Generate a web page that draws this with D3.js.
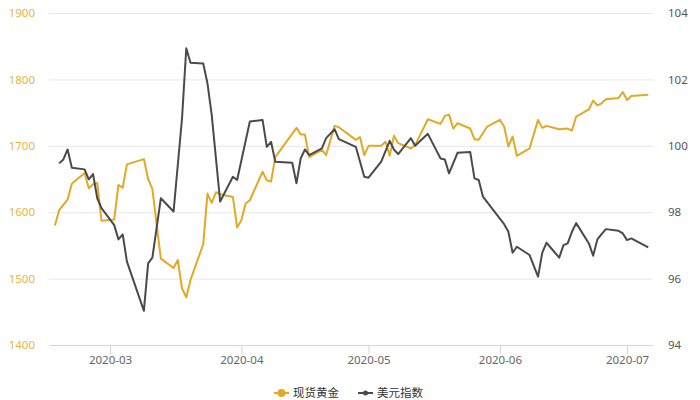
<!DOCTYPE html>
<html>
<head>
<meta charset="utf-8">
<script src="https://cdn.jsdelivr.net/npm/d3@7"></script>
<style>
  html, body { margin: 0; padding: 0; background: #fff; }
  svg { display: block; font-family: "Noto Sans CJK SC", "Noto Sans", sans-serif; }
</style>
</head>
<body>
<svg id="chart" width="700" height="400"></svg>
<script>
// ---- data ----
const goldDates = ["2020-02-17","2020-02-18","2020-02-19","2020-02-20","2020-02-21","2020-02-24","2020-02-25","2020-02-26","2020-02-27","2020-02-28",
  "2020-03-02","2020-03-03","2020-03-04","2020-03-05","2020-03-09","2020-03-10","2020-03-11","2020-03-13","2020-03-16","2020-03-17",
  "2020-03-18","2020-03-19","2020-03-20","2020-03-23","2020-03-24","2020-03-25","2020-03-26","2020-03-27","2020-03-30","2020-03-31",
  "2020-04-01","2020-04-02","2020-04-03","2020-04-06","2020-04-07","2020-04-08","2020-04-09","2020-04-14","2020-04-15","2020-04-16",
  "2020-04-17","2020-04-20","2020-04-21","2020-04-23","2020-04-24","2020-04-28","2020-04-29","2020-04-30","2020-05-01","2020-05-04",
  "2020-05-05","2020-05-06","2020-05-07","2020-05-08","2020-05-11","2020-05-12","2020-05-15","2020-05-18","2020-05-19","2020-05-20",
  "2020-05-21","2020-05-22","2020-05-25","2020-05-26","2020-05-27","2020-05-29","2020-06-01","2020-06-02","2020-06-03","2020-06-04",
  "2020-06-05","2020-06-08","2020-06-10","2020-06-11","2020-06-12","2020-06-15","2020-06-17","2020-06-18","2020-06-19","2020-06-22",
  "2020-06-23","2020-06-24","2020-06-25","2020-06-26","2020-06-29","2020-06-30","2020-07-01","2020-07-02","2020-07-06"];
const goldValues = [1580,1603,1611,1619,1643,1659,1636,1642,1644,1587,
  1589,1641,1637,1672,1680,1650,1635,1530,1516,1528,
  1485,1472,1498,1552,1628,1614,1630,1627,1623,1577,
  1588,1613,1618,1661,1648,1646,1683,1727,1717,1717,
  1683,1694,1686,1730,1728,1709,1713,1686,1700,1700,
  1706,1685,1715,1704,1696,1701,1740,1733,1745,1747,
  1726,1734,1726,1710,1709,1729,1739,1729,1699,1714,
  1685,1696,1739,1727,1730,1725,1726,1723,1744,1755,
  1768,1761,1764,1770,1772,1781,1769,1775,1777];

const usdDates = ["2020-02-18","2020-02-19","2020-02-20","2020-02-21","2020-02-24","2020-02-25","2020-02-26","2020-02-27","2020-02-28",
  "2020-03-02","2020-03-03","2020-03-04","2020-03-05","2020-03-09","2020-03-10","2020-03-11","2020-03-13","2020-03-16","2020-03-18",
  "2020-03-19","2020-03-20","2020-03-23","2020-03-24","2020-03-25","2020-03-27","2020-03-30","2020-03-31","2020-04-03","2020-04-06",
  "2020-04-07","2020-04-08","2020-04-09","2020-04-13","2020-04-14","2020-04-15","2020-04-16","2020-04-17","2020-04-20","2020-04-21",
  "2020-04-23","2020-04-24","2020-04-28","2020-04-30","2020-05-01","2020-05-04","2020-05-06","2020-05-07","2020-05-08","2020-05-11",
  "2020-05-12","2020-05-15","2020-05-18","2020-05-19","2020-05-20","2020-05-22","2020-05-25","2020-05-26","2020-05-27","2020-05-28",
  "2020-06-02","2020-06-03","2020-06-04","2020-06-05","2020-06-08","2020-06-10","2020-06-11","2020-06-12","2020-06-15","2020-06-16",
  "2020-06-17","2020-06-18","2020-06-19","2020-06-22","2020-06-23","2020-06-24","2020-06-25","2020-06-26","2020-06-29","2020-06-30",
  "2020-07-01","2020-07-02","2020-07-06"];
const usdValues = [99.47,99.59,99.89,99.34,99.29,98.99,99.15,98.42,98.12,
  97.61,97.18,97.33,96.51,95.03,96.46,96.63,98.42,98.02,100.83,
  102.94,102.50,102.48,101.88,100.93,98.32,99.07,98.97,100.73,100.78,
  99.97,100.12,99.52,99.49,98.87,99.62,99.89,99.72,99.92,100.23,
  100.50,100.20,99.97,99.07,99.04,99.52,100.15,99.89,99.75,100.23,
  100.00,100.36,99.62,99.59,99.17,99.79,99.81,99.02,98.97,98.47,
  97.64,97.41,96.78,96.96,96.71,96.06,96.78,97.08,96.63,97.01,
  97.06,97.41,97.67,97.06,96.69,97.18,97.34,97.49,97.44,97.36,
  97.16,97.21,96.94];

const leftTicks = [1400,1500,1600,1700,1800,1900];
const rightTicks = [94,96,98,100,102,104];
const monthTicks = ["2020-03-01","2020-04-01","2020-05-01","2020-06-01","2020-07-01"];
const seriesNames = ["现货黄金","美元指数"];

// ---- drawing ----
const parse = d3.utcParse("%Y-%m-%d");
const gold = goldDates.map((d,i) => ({date: parse(d), value: goldValues[i]}));
const usd = usdDates.map((d,i) => ({date: parse(d), value: usdValues[i]}));

const L = 49, R = 653, T = 13, B = 345;
const goldColor = "#e2a925", usdColor = "#4a4a4a";

const x = d3.scaleUtc()
  .domain([new Date(Date.UTC(2020,1,15,14,38)), new Date(Date.UTC(2020,6,7,3))])
  .range([L, R]);
const yL = d3.scaleLinear().domain([1400,1900]).range([B, T]);
const yR = d3.scaleLinear().domain([94,104]).range([B, T]);

const svg = d3.select("#chart");

// grid lines
svg.append("g").selectAll("line").data(leftTicks.slice(1)).join("line")
  .attr("x1", L).attr("x2", R)
  .attr("y1", d => yL(d) + 0.5).attr("y2", d => yL(d) + 0.5)
  .attr("stroke", "#e6e6e6").attr("stroke-width", 1);

// left axis
const gL = svg.append("g").attr("transform", `translate(${L},0)`)
  .call(d3.axisLeft(yL).tickValues(leftTicks).tickSize(0).tickPadding(14).tickFormat(d3.format("d")));
gL.select(".domain").remove();
gL.selectAll("text").attr("fill", "#e8b448").attr("font-size", "11.5px")
  .attr("font-family", "'Noto Sans', sans-serif");

// right axis
const gR = svg.append("g").attr("transform", `translate(${R},0)`)
  .call(d3.axisRight(yR).tickValues(rightTicks).tickSize(0).tickPadding(15).tickFormat(d3.format("d")));
gR.select(".domain").remove();
gR.selectAll("text").attr("fill", "#555").attr("font-size", "11.5px")
  .attr("font-family", "'Noto Sans', sans-serif");

// bottom axis
const gB = svg.append("g").attr("transform", `translate(0,${B})`)
  .call(d3.axisBottom(x).tickValues(monthTicks.map(parse)).tickFormat(d3.utcFormat("%Y-%m")).tickSize(9).tickPadding(2).tickSizeOuter(0));
gB.select(".domain").attr("stroke", "#ccd6eb");
gB.selectAll(".tick line").attr("stroke", "#ccd6eb");
gB.selectAll("text").attr("fill", "#666").attr("font-size", "11.5px")
  .attr("font-family", "'Noto Sans', sans-serif");

// lines
const lineGold = d3.line().x(d => x(d.date)).y(d => yL(d.value));
const lineUsd = d3.line().x(d => x(d.date)).y(d => yR(d.value));

svg.append("path").datum(gold).attr("d", lineGold)
  .attr("fill", "none").attr("stroke", goldColor).attr("stroke-width", 2).attr("stroke-linejoin", "round");
svg.append("path").datum(usd).attr("d", lineUsd)
  .attr("fill", "none").attr("stroke", usdColor).attr("stroke-width", 2).attr("stroke-linejoin", "round");

// legend
const legend = svg.append("g");
const items = [
  {name: seriesNames[0], color: goldColor, x: 274, r: 4},
  {name: seriesNames[1], color: usdColor, x: 358, r: 2.5}
];
const ly = 393;
items.forEach(it => {
  legend.append("line").attr("x1", it.x).attr("x2", it.x + 15).attr("y1", ly).attr("y2", ly)
    .attr("stroke", it.color).attr("stroke-width", 2);
  legend.append("circle").attr("cx", it.x + 7.5).attr("cy", ly).attr("r", it.r).attr("fill", it.color);
  legend.append("text").attr("x", it.x + 19).attr("y", ly).attr("dy", "0.35em")
    .attr("font-size", "11.5px").attr("fill", "#333").text(it.name);
});
</script>
</body>
</html>
